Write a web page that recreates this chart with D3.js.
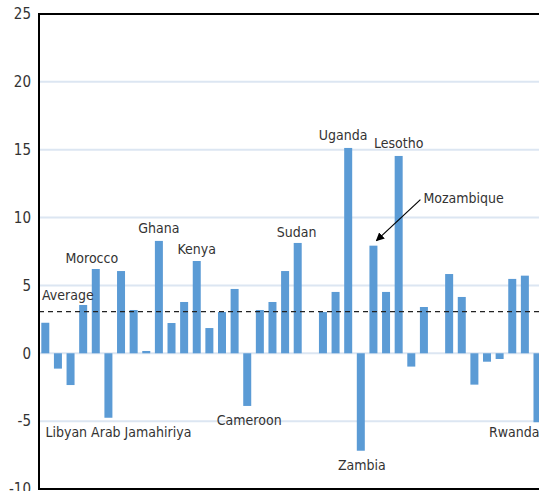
<!DOCTYPE html>
<html>
<head>
<meta charset="utf-8">
<script src="https://cdn.jsdelivr.net/npm/d3@7"></script>
<style>
  html, body { margin: 0; padding: 0; background: #fff; }
  svg { display: block; font-family: "Liberation Sans Narrow", "DejaVu Sans Condensed", "Liberation Sans", sans-serif; }
</style>
</head>
<body>
<div id="chart"></div>
<script>
// bar values, left to right (40 visible categories)
const values = [
  2.25, -1.13, -2.34, 3.56, 6.21, -4.75, 6.06, 3.19, 0.17, 8.28,
  2.23, 3.78, 6.8, 1.86, 3.04, 4.74, -3.88, 3.19, 3.78, 6.06,
  8.13, 0, 3.04, 4.52, 15.13, -7.18, 7.93, 4.52, 14.54, -0.98,
  3.41, 0, 5.84, 4.15, -2.31, -0.62, -0.42, 5.48, 5.72, -5.08
];
const average = 3.07;
const yTicks = [-10, -5, 0, 5, 10, 15, 20, 25];

// labelled countries and the bar they belong to
const labelNames = ["Libyan Arab Jamahiriya", "Morocco", "Ghana", "Kenya", "Cameroon",
                    "Sudan", "Uganda", "Zambia", "Lesotho", "Rwanda"];
const labelBars = [5, 4, 9, 12, 16, 20, 24, 25, 28, 39];
const arrowName = "Mozambique";
const arrowBar = 26;

// label nudges (layout only)
const labelNudge = {
  "Libyan Arab Jamahiriya": { dx: 10, dy: 19, anchor: "middle" },
  "Morocco": { dx: -4, dy: -6, anchor: "middle" },
  "Ghana": { dx: 0, dy: -8, anchor: "middle" },
  "Kenya": { dx: 0, dy: -7, anchor: "middle" },
  "Cameroon": { dx: 2, dy: 19, anchor: "middle" },
  "Sudan": { dx: -1, dy: -6, anchor: "middle" },
  "Uganda": { dx: -5, dy: -8, anchor: "middle" },
  "Zambia": { dx: 1, dy: 19, anchor: "middle" },
  "Lesotho": { dx: 0, dy: -8, anchor: "middle" },
  "Rwanda": { dx: 2, dy: 15, anchor: "end" }
};

const width = 539, height = 491;
const axisX = 39, plotTop = 14, plotBottom = 489;
const step = 12.62;

const svg = d3.select("#chart").append("svg")
  .attr("width", width)
  .attr("height", height);

const x = d3.scaleBand()
  .domain(d3.range(values.length))
  .range([axisX, axisX + step * values.length])
  .paddingInner(0.366)
  .paddingOuter(0.183);

const y = d3.scaleLinear()
  .domain([-10, 25])
  .range([plotBottom, plotTop]);

const textColor = "#333";

// gridlines
svg.append("g")
  .selectAll("line")
  .data(yTicks.filter(d => d > -10 && d < 25))
  .join("line")
  .attr("x1", axisX)
  .attr("x2", width + 10)
  .attr("y1", d => y(d))
  .attr("y2", d => y(d))
  .attr("stroke", "#dce6f2")
  .attr("stroke-width", 2);

// tick labels
svg.append("g")
  .selectAll("text")
  .data(yTicks)
  .join("text")
  .attr("x", 31)
  .attr("y", d => y(d))
  .attr("dy", "0.35em")
  .attr("text-anchor", "end")
  .attr("fill", textColor)
  .style("font-size", "15px")
  .text(d => d);

// bars
svg.append("g")
  .selectAll("rect")
  .data(values)
  .join("rect")
  .attr("x", (d, i) => x(i))
  .attr("width", x.bandwidth())
  .attr("y", d => y(Math.max(0, d)))
  .attr("height", d => Math.abs(y(d) - y(0)))
  .attr("fill", "#5b9bd5");

// average line
svg.append("line")
  .attr("x1", axisX)
  .attr("x2", width + 10)
  .attr("y1", y(average))
  .attr("y2", y(average))
  .attr("stroke", "#222")
  .attr("stroke-width", 1.3)
  .attr("stroke-dasharray", "5,4");

svg.append("text")
  .attr("x", 42)
  .attr("y", y(average) - 12)
  .attr("fill", textColor)
  .style("font-size", "14px")
  .text("Average");

// frame: left axis, top and bottom border
svg.append("path")
  .attr("d", `M${width + 10},${plotTop}H${axisX}V${plotBottom}H${width + 10}`)
  .attr("fill", "none")
  .attr("stroke", "#000")
  .attr("stroke-width", 2);

// country labels
svg.append("g")
  .selectAll("text")
  .data(labelNames)
  .join("text")
  .attr("x", (d, i) => x(labelBars[i]) + x.bandwidth() / 2 + labelNudge[d].dx)
  .attr("y", (d, i) => y(values[labelBars[i]]) + labelNudge[d].dy)
  .attr("text-anchor", d => labelNudge[d].anchor)
  .attr("fill", textColor)
  .style("font-size", "14px")
  .text(d => d);

// arrow annotation
svg.append("defs").append("marker")
  .attr("id", "arrowhead")
  .attr("viewBox", "0 0 10 10")
  .attr("refX", 9)
  .attr("refY", 5)
  .attr("markerWidth", 7)
  .attr("markerHeight", 7)
  .attr("orient", "auto")
  .append("path")
  .attr("d", "M0,0L10,5L0,10z")
  .attr("fill", "#000");

const tipX = x(arrowBar) + x.bandwidth() / 2 + 3;
const tipY = y(values[arrowBar]) - 5;

svg.append("line")
  .attr("x1", tipX + 44)
  .attr("y1", tipY - 41)
  .attr("x2", tipX)
  .attr("y2", tipY)
  .attr("stroke", "#000")
  .attr("stroke-width", 1.2)
  .attr("marker-end", "url(#arrowhead)");

svg.append("text")
  .attr("x", tipX + 47)
  .attr("y", tipY - 38)
  .attr("fill", textColor)
  .style("font-size", "14px")
  .text(arrowName);
</script>
</body>
</html>
